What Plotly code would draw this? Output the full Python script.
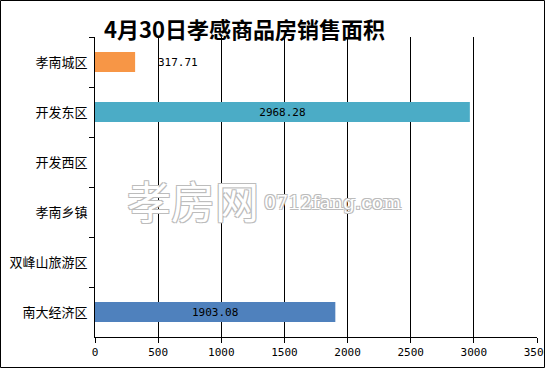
import plotly.graph_objects as go

categories = ["孝南城区", "开发东区", "开发西区", "孝南乡镇", "双峰山旅游区", "南大经济区"]
values = [317.71, 2968.28, None, None, None, 1903.08]
bar_colors = ["#F79646", "#4BACC6", "#4BACC6", "#4BACC6", "#4BACC6", "#4F81BD"]
label_pos = ["outside", "inside", "inside", "inside", "inside", "inside"]
label_tpl = ["\u00a0\u00a0\u00a0%{x:.2f}", "%{x:.2f}", "", "", "", "%{x:.2f}"]
x_ticks = [0, 500, 1000, 1500, 2000, 2500, 3000, 3500]
title_text = "4月30日孝感商品房销售面积"

fig = go.Figure(go.Bar(
    y=categories, x=values, orientation="h",
    marker=dict(color=bar_colors, line=dict(width=0)),
    width=0.4,
    texttemplate=label_tpl,
    textposition=label_pos,
    insidetextanchor="middle",
    textfont=dict(family="DejaVu Sans Mono", size=11, color="black"),
    outsidetextfont=dict(family="DejaVu Sans Mono", size=11, color="black"),
    insidetextfont=dict(family="DejaVu Sans Mono", size=11, color="black"),
    cliponaxis=False,
    hoverinfo="skip",
))

W, H = 545, 368
L, R, T, B = 95, 8, 37, 31
pw, ph = W - L - R, H - T - B

def px_x(p):
    return (p - L) / pw

def px_y(p):
    return (H - B - p) / ph

outline = "-1px -1px 0 #bcbcbc, 1px -1px 0 #bcbcbc, -1px 1px 0 #bcbcbc, 1px 1px 0 #bcbcbc"

fig.update_layout(
    width=W, height=H, autosize=False,
    margin=dict(l=L, r=R, t=T, b=B, pad=0, autoexpand=False),
    paper_bgcolor="white", plot_bgcolor="white",
    showlegend=False,
    xaxis=dict(
        range=[0, 3500], tickvals=x_ticks, ticktext=[str(v) for v in x_ticks],
        showgrid=True, gridcolor="black", gridwidth=1,
        zeroline=False, showline=True, linecolor="black", linewidth=1,
        ticks="outside", ticklen=5, tickcolor="black", tickwidth=1,
        tickfont=dict(family="DejaVu Sans Mono", size=11, color="black"),
        ticklabeloverflow="allow", automargin=False,
        fixedrange=True,
    ),
    yaxis=dict(
        autorange="reversed",
        showgrid=False, zeroline=False, showline=True, linecolor="black", linewidth=1,
        ticks="outside", ticklen=5, tickcolor="black", tickson="boundaries",
        tickfont=dict(family="Noto Sans CJK SC", size=13, color="black"),
        ticklabelstandoff=4, automargin=False,
        fixedrange=True,
    ),
    shapes=[dict(
        type="rect", xref="paper", yref="paper",
        x0=px_x(0.5), x1=px_x(544.5), y0=px_y(367.5), y1=px_y(0.5),
        line=dict(color="black", width=1), fillcolor="rgba(0,0,0,0)", layer="above",
    )],
    annotations=[
        dict(text="<b>" + title_text + "</b>", xref="paper", yref="paper",
             x=px_x(244), y=px_y(28), showarrow=False, xanchor="center", yanchor="middle",
             font=dict(family="Noto Sans CJK SC", size=22, color="black")),
        dict(text="孝房网", xref="paper", yref="paper",
             x=px_x(125), y=px_y(200), showarrow=False, xanchor="left", yanchor="middle",
             font=dict(family="Noto Sans CJK SC", size=44, color="white", shadow=outline)),
        dict(text="0712fang.com", xref="paper", yref="paper",
             x=px_x(262), y=px_y(202), showarrow=False, xanchor="left", yanchor="middle",
             font=dict(family="DejaVu Serif", size=19, color="white", shadow=outline)),
    ],
)

fig.write_html(
    "out.html",
    config={"responsive": False, "displayModeBar": False, "staticPlot": True},
    post_script="document.body.style.margin='0';document.body.style.overflow='hidden';",
)
